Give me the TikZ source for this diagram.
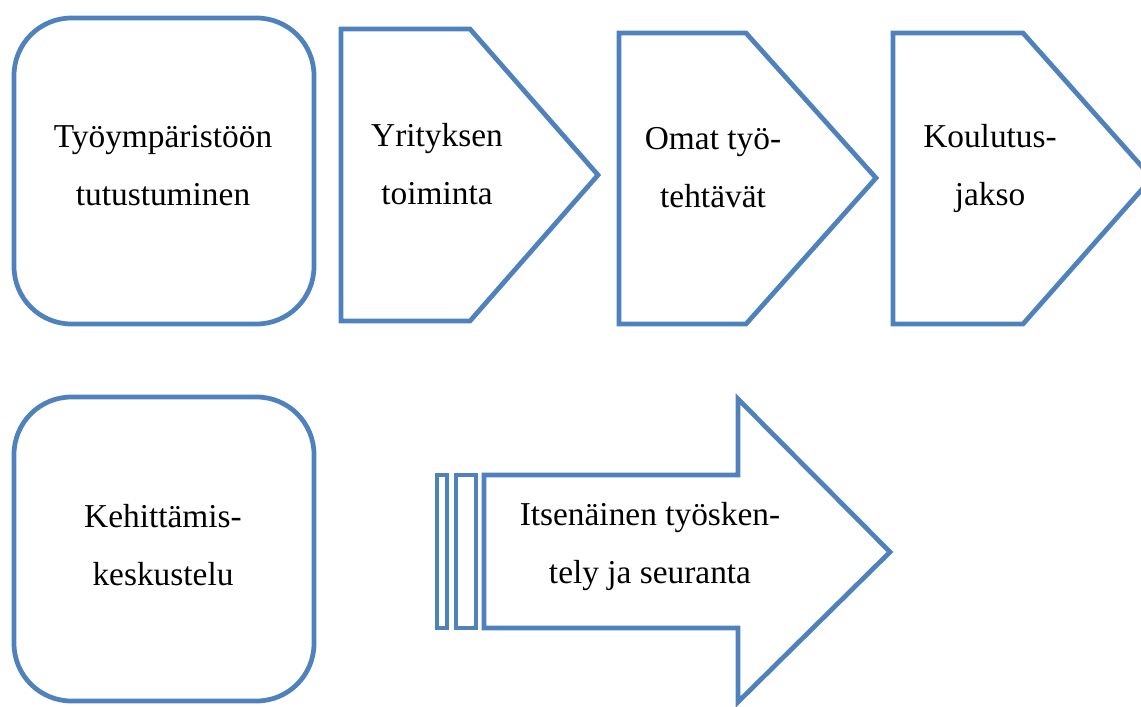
\documentclass[tikz,border=0pt]{standalone}
\usepackage{fontspec}
\setmainfont{Liberation Serif}
\definecolor{boxblue}{RGB}{79,129,189}

\begin{document}
\begin{tikzpicture}[x=0.02cm, y=-0.02cm,
  shapeline/.style={draw=boxblue, line width=2.7pt, line join=miter},
  roundbox/.style={shapeline, rounded corners=1.15cm},
  steptext/.style={align=center, inner sep=0pt, font=\fontsize{19}{33}\selectfont}]
\useasboundingbox (0,0) rectangle (1141,706);
\clip (0,0) rectangle (1141,706);
% top row
\draw[roundbox] (14,18) rectangle (314,324);
\draw[shapeline] (341,29) -- (470,29) -- (598,175) -- (470,321) -- (341,321) -- cycle;
\draw[shapeline] (619,33) -- (746,33) -- (876,178) -- (746,324) -- (619,324) -- cycle;
\draw[shapeline] (893,33) -- (1023,33) -- (1152,178) -- (1023,324) -- (893,324) -- cycle;
\node[steptext] (intro) at (163,166) {Työympäristöön\\tutustuminen};
\node[steptext] (company) at (437,164) {Yrityksen\\toiminta};
\node[steptext] (tasks) at (713,168) {Omat työ-\\tehtävät};
\node[steptext] (training) at (990,168) {Koulutus-\\jakso};
% bottom row
\draw[roundbox] (14,397) rectangle (314,701);
\draw[shapeline] (437,475) rectangle (447,628);
\draw[shapeline] (456,475) rectangle (476,628);
\draw[shapeline] (484,475) -- (738,475) -- (738,399) -- (890,552) -- (738,702) -- (738,628) -- (484,628) -- cycle;
\node[steptext] (review) at (163,545) {Kehittämis-\\keskustelu};
\node[steptext] (independent) at (650,547) {Itsenäinen työsken-\\tely ja seuranta};
\end{tikzpicture}
\end{document}
